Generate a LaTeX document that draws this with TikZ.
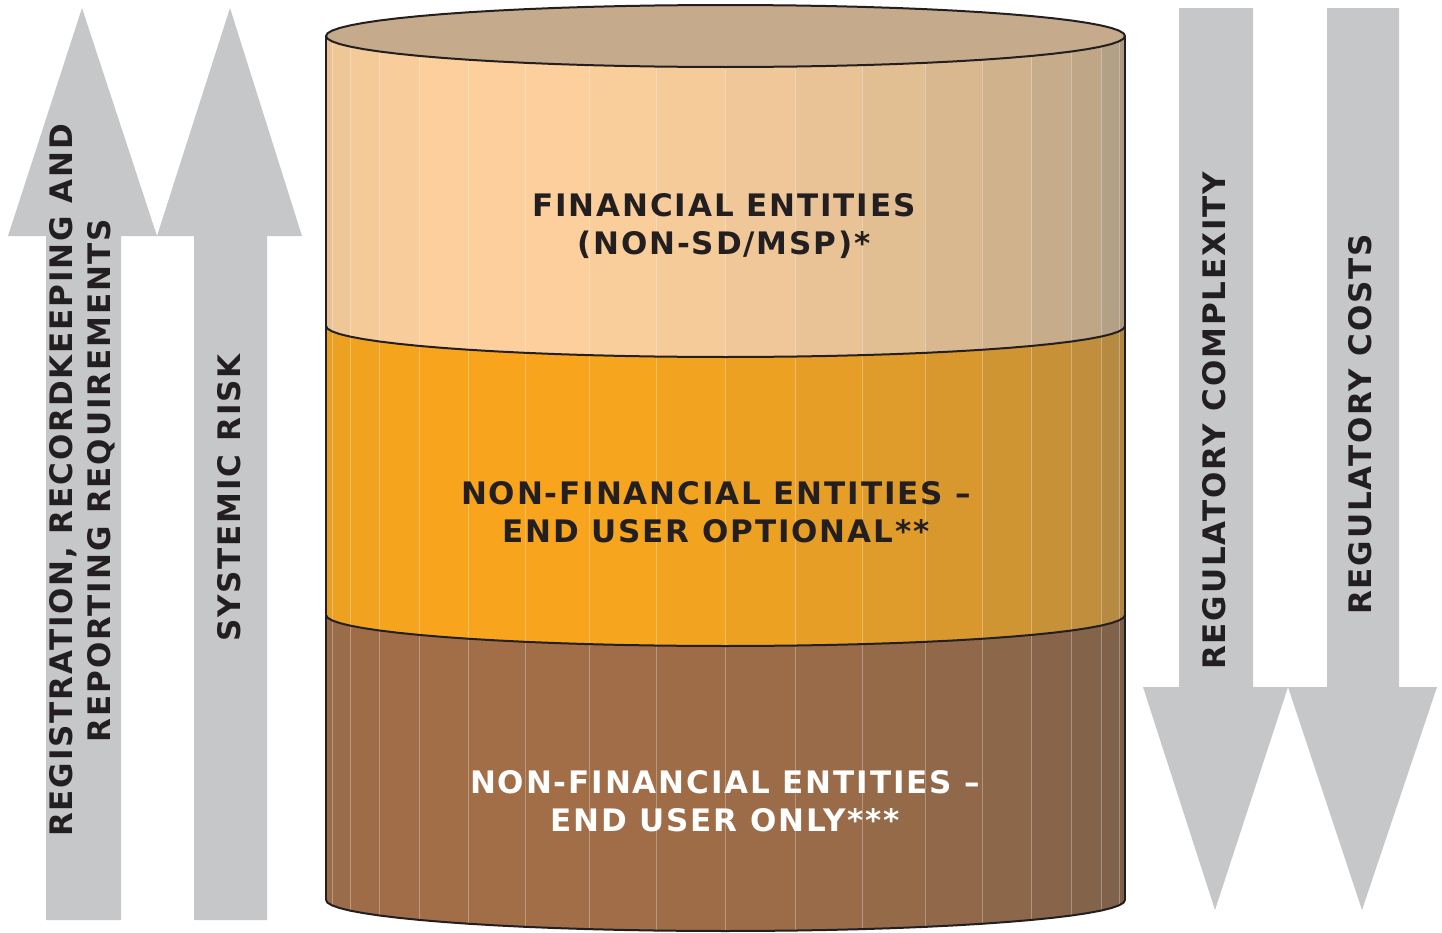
\documentclass[tikz,border=0pt]{standalone}
\usepackage{fontspec}
\newfontfamily\labelfont{DejaVu Sans}[LetterSpace=6]
\begin{document}
\begin{tikzpicture}[x=1pt,y=-1pt]
    \def\cx{725.5}
    \def\rx{399.5}
    \def\ry{31}
    \def\lidy{36}

    \definecolor{ink}{RGB}{35,31,32}
    \definecolor{arrowgrey}{RGB}{198,199,201}
    \definecolor{lidcol}{RGB}{198,170,140}
    \definecolor{topL}{RGB}{253,208,156}
    \definecolor{topD}{RGB}{144,136,120}
    \definecolor{midL}{RGB}{249,166,28}
    \definecolor{midD}{RGB}{150,124,84}
    \definecolor{lowL}{RGB}{162,110,72}
    \definecolor{lowD}{RGB}{111,92,77}

    \tikzstyle{bigarrow}=[fill=arrowgrey]
    \tikzstyle{darklabel}=[text=ink,font=\labelfont\bfseries\fontsize{31}{38}\selectfont,align=center,inner sep=0pt]
    \tikzstyle{lightlabel}=[darklabel,text=white]
    \tikzstyle{arrowlabel}=[darklabel,rotate=90,anchor=west]
    \tikzstyle{outline}=[draw=ink,line width=2pt,line join=round]

    \useasboundingbox (0,0) rectangle (1442,932);

    % up arrows
    \fill[bigarrow] (46,920) -- (46,236) -- (8,236) -- (82,8) -- (157,236) -- (121,236) -- (121,920) -- cycle;
    \fill[bigarrow] (194,920) -- (194,236) -- (157,236) -- (230,8) -- (302,236) -- (267,236) -- (267,920) -- cycle;
    % down arrows
    \fill[bigarrow] (1179,8) -- (1253,8) -- (1253,687) -- (1288,687) -- (1215,910) -- (1143,687) -- (1179,687) -- cycle;
    \fill[bigarrow] (1327,8) -- (1399,8) -- (1399,687) -- (1437,687) -- (1362,910) -- (1288,687) -- (1327,687) -- cycle;

    % cylinder layers, one facet at a time
    \foreach \ytop/\ybot/\lt/\dk in {36/326/topL/topD,326/615/midL/midD,615/900/lowL/lowD}{
      \begin{scope}
        \clip ({\cx-\rx},\ytop) -- plot[domain=180:0,samples=37] ({\cx+\rx*cos(\x)},{\ytop+\ry*sin(\x)})
          -- plot[domain=0:180,samples=37] ({\cx+\rx*cos(\x)},{\ybot+\ry*sin(\x)}) -- cycle;
        \foreach \t in {180,170,...,10}{
          \pgfmathtruncatemacro\w{50*(1+cos(\t-5-124))}
          \fill[\lt!\w!\dk] ({\cx+\rx*cos(\t)},\ytop-40) rectangle ({\cx+\rx*cos(\t-10)+0.5},\ybot+40);
          \draw[white,opacity=.3,line width=.7pt] ({\cx+\rx*cos(\t)},\ytop-40) -- ({\cx+\rx*cos(\t)},\ybot+40);
        }
      \end{scope}
    }

    % lid and outlines
    \fill[lidcol] plot[domain=0:360,samples=73] ({\cx+\rx*cos(\x)},{\lidy+\ry*sin(\x)}) -- cycle;
    \draw[outline] plot[domain=0:360,samples=73] ({\cx+\rx*cos(\x)},{\lidy+\ry*sin(\x)}) -- cycle;
    \foreach \yb in {326,615,900}
      \draw[outline] plot[domain=180:0,samples=37] ({\cx+\rx*cos(\x)},{\yb+\ry*sin(\x)});
    \draw[outline] ({\cx-\rx},\lidy) -- ({\cx-\rx},900);
    \draw[outline] ({\cx+\rx},\lidy) -- ({\cx+\rx},900);

    \node[darklabel]  (financial) at (724,226) {FINANCIAL ENTITIES\\(NON-SD/MSP)*};
    \node[darklabel]  (optional) at (716,512) {NON-FINANCIAL ENTITIES –\\END USER OPTIONAL**};
    \node[lightlabel] (enduser) at (725,801) {NON-FINANCIAL ENTITIES –\\END USER ONLY***};

    \node[arrowlabel] (registration) at (82,837) {REGISTRATION, RECORDKEEPING AND\\REPORTING REQUIREMENTS};
    \node[arrowlabel] (risk) at (229,642) {SYSTEMIC RISK};
    \node[arrowlabel] (complexity) at (1214,670) {REGULATORY COMPLEXITY};
    \node[arrowlabel] (costs) at (1360,615) {REGULATORY COSTS};

\end{tikzpicture}
\end{document}
